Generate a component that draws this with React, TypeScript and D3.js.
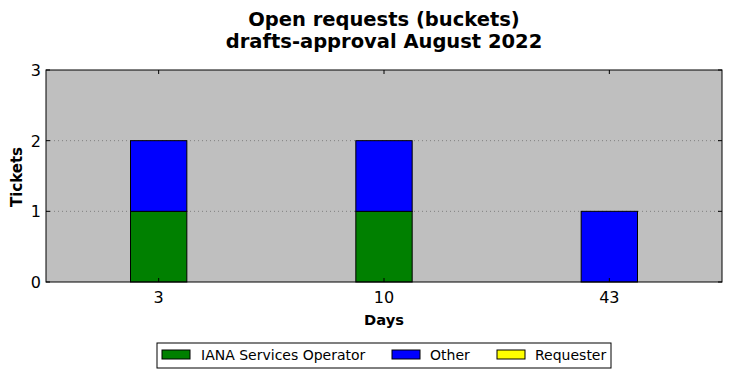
import React from "react";
import * as d3 from "d3";

const categories = ["3", "10", "43"];
const seriesNames = ["IANA Services Operator", "Other", "Requester"];
const seriesColors = ["#008000", "#0000ff", "#ffff00"];
const ianaValues = [1, 1, 0];
const otherValues = [1, 1, 1];
const requesterValues = [0, 0, 0];
const yTicks = [0, 1, 2, 3];
const titleLines = ["Open requests (buckets)", "drafts-approval August 2022"];

const W = 731, H = 378;
const M = { left: 46, right: 722, top: 70, bottom: 282 };

export default function App() {
  const x = d3.scalePoint<string>().domain(categories).range([M.left, M.right]).padding(0.5);
  const y = d3.scaleLinear().domain([0, 3]).range([M.bottom, M.top]);
  const bw = x.step() * 0.25;
  const series = [ianaValues, otherValues, requesterValues];
  const stack = d3.stack<number>().keys(["0", "1", "2"]).value((i, k) => series[+k][i]);
  const stacked = stack(categories.map((_, i) => i));
  const font = "DejaVu Sans";
  const legendItems = [
    { x: 162, tx: 201 },
    { x: 392, tx: 430 },
    { x: 497, tx: 535 },
  ];
  return (
    <svg width={W} height={H} style={{ position: "absolute", left: 0, top: 0 }} fontFamily={font}>
      <rect x={0} y={0} width={W} height={H} fill="#fff" />
      <text x={384} y={26} textAnchor="middle" fontSize={19.5} fontWeight="bold">{titleLines[0]}</text>
      <text x={384} y={48} textAnchor="middle" fontSize={19.5} fontWeight="bold">{titleLines[1]}</text>
      <rect x={M.left} y={M.top} width={M.right - M.left} height={M.bottom - M.top} fill="#bfbfbf" />
      {yTicks.slice(1, -1).map((t) => (
        <line key={t} x1={M.left} x2={M.right} y1={y(t)} y2={y(t)} stroke="#808080" strokeWidth={1} strokeDasharray="1,3" />
      ))}
      {stacked.map((s, si) =>
        s.map((d, i) =>
          d[1] - d[0] > 0 ? (
            <rect key={si + "-" + i} x={x(categories[i])! - bw / 2} y={y(d[1])} width={bw} height={y(d[0]) - y(d[1])}
              fill={seriesColors[si]} stroke="#000" strokeWidth={1} />
          ) : null
        )
      )}
      <rect x={M.left} y={M.top} width={M.right - M.left} height={M.bottom - M.top} fill="none" stroke="#000" strokeWidth={1} />
      {categories.map((c) => (
        <g key={c}>
          <line x1={x(c)} x2={x(c)} y1={M.bottom} y2={M.bottom - 4} stroke="#000" />
          <line x1={x(c)} x2={x(c)} y1={M.top} y2={M.top + 4} stroke="#000" />
          <text x={x(c)} y={303} textAnchor="middle" fontSize={16}>{c}</text>
        </g>
      ))}
      {yTicks.map((t) => (
        <g key={t}>
          <line x1={M.left} x2={M.left + 4} y1={y(t)} y2={y(t)} stroke="#000" />
          <line x1={M.right} x2={M.right - 4} y1={y(t)} y2={y(t)} stroke="#000" />
          <text x={41} y={y(t) + 6} textAnchor="end" fontSize={16}>{t}</text>
        </g>
      ))}
      <text x={384} y={325} textAnchor="middle" fontSize={14.7} fontWeight="bold">Days</text>
      <text transform={`translate(22,177) rotate(-90)`} textAnchor="middle" fontSize={15} fontWeight="bold">Tickets</text>
      <rect x={157} y={343} width={454} height={25} fill="#fff" stroke="#000" strokeWidth={1} />
      {seriesNames.map((n, i) => (
        <g key={n}>
          <rect x={legendItems[i].x} y={350} width={28} height={9} fill={seriesColors[i]} stroke="#000" strokeWidth={1} />
          <text x={legendItems[i].tx} y={360} fontSize={14}>{n}</text>
        </g>
      ))}
    </svg>
  );
}
